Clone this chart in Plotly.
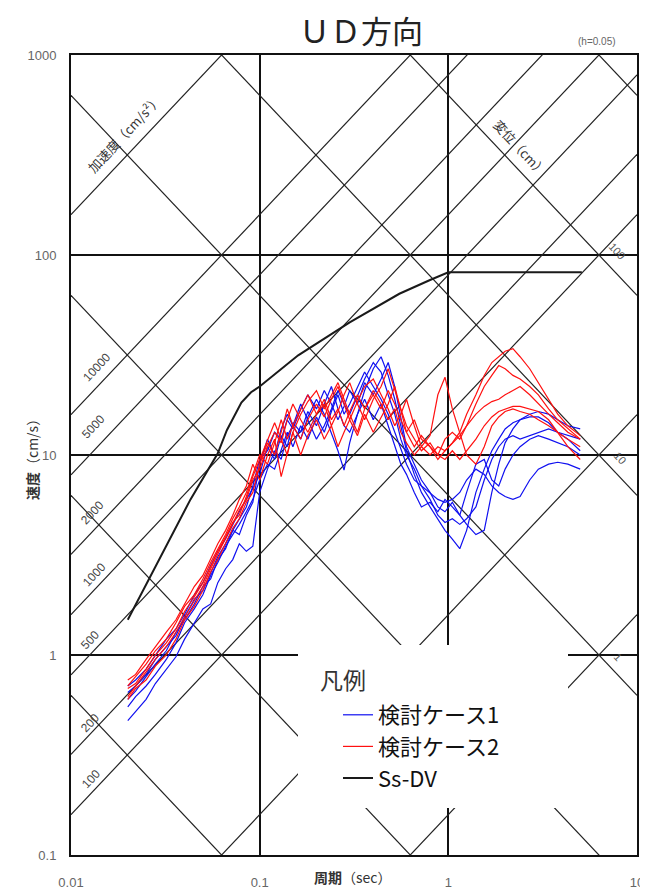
import math
import plotly.graph_objects as go

# ---------------- data ----------------
period = [0.02, 0.022, 0.025, 0.028, 0.032, 0.036, 0.04, 0.045, 0.05, 0.055,
          0.06, 0.066, 0.072, 0.078, 0.085, 0.092, 0.1, 0.11, 0.12, 0.13,
          0.14, 0.15, 0.165, 0.18, 0.2, 0.22, 0.24, 0.26, 0.28, 0.3,
          0.33, 0.36, 0.4, 0.44, 0.48, 0.52, 0.56, 0.6, 0.66, 0.72,
          0.8, 0.88, 0.96, 1.05, 1.15, 1.25, 1.4, 1.55, 1.7, 1.85,
          2.0, 2.2, 2.4, 2.7, 3.0, 3.4, 3.8, 4.3, 5.0]

case1_a = [0.47, 0.52, 0.6, 0.72, 0.85, 0.98, 1.2, 1.45, 1.7, 1.8,
           2.3, 2.7, 3.0, 3.6, 3.3, 3.5, 6.5, 8.5, 10.5, 9.5,
           12.5, 14, 12, 15.5, 19, 16, 13, 10.5, 8.4, 11.5,
           16, 21, 27, 31, 25, 19, 14, 10.5, 8, 6.5,
           5.5, 4.8, 4.2, 3.8, 3.4, 4.2, 6.5, 8.5, 10.5, 12,
           13.5, 14.5, 15, 15.5, 15.5, 14.5, 13, 12, 10.5]
case1_b = [0.6, 0.66, 0.78, 0.9, 1.05, 1.3, 1.5, 1.8, 2.2, 2.4,
           3.0, 3.4, 4.2, 4.8, 5.5, 7.0, 9.5, 10.5, 13, 12,
           15, 13.5, 17, 20, 17, 21, 18, 15, 17.5, 21,
           18, 23, 20, 24, 29, 22, 15, 11, 9, 7.5,
           6.5, 5.5, 5.2, 5.8, 5.0, 4.5, 4.0, 4.2, 6.5, 9,
           11.5, 13.5, 15, 16, 16.5, 16, 15, 14, 13.5]
case1_c = [0.7, 0.75, 0.85, 1.0, 1.2, 1.35, 1.6, 2.0, 2.3, 2.8,
           3.3, 3.8, 4.5, 5.2, 6.0, 6.8, 8.0, 11, 9.5, 12.5,
           11, 14.5, 13, 16.5, 14, 18, 22, 17, 14, 13,
           16, 19, 15, 18, 14, 11, 9, 8, 6.5, 5.5,
           5.8, 5.2, 6.0, 5.5, 5.0, 6.5, 9, 9.5, 7.5, 7.0,
           8.5, 10, 11, 12, 12.5, 12, 11.5, 11, 10]
case1_d = [0.55, 0.62, 0.7, 0.8, 0.95, 1.15, 1.45, 1.7, 2.0, 2.5,
           2.9, 3.5, 4.0, 4.5, 5.2, 6.0, 7.5, 9, 8.5, 10.5,
           13, 11, 14, 12, 15.5, 13, 16.5, 20, 16, 18,
           22, 26, 22, 19, 16, 13, 10.5, 9, 7.5, 7.0,
           6.5, 6.0, 5.8, 6.0, 6.5, 7.5, 8.5, 8.0, 7.0, 6.5,
           6.2, 6.0, 6.2, 7.5, 8.5, 9.0, 9.2, 9.0, 8.5]
case1_e = [0.65, 0.7, 0.8, 0.95, 1.1, 1.25, 1.55, 1.9, 2.1, 2.6,
           3.1, 3.6, 4.2, 4.0, 5.0, 5.8, 9, 12, 10, 13.5,
           16, 14, 18, 15, 12, 14, 17, 21, 18, 16,
           20, 24, 29, 26, 20, 16, 12, 10, 8.5, 7.0,
           6.0, 5.0, 4.6, 4.8, 4.5, 4.8, 5.5, 7.5, 9.5, 11,
           12, 12.5, 12, 12.5, 13, 13.5, 13, 12.5, 12]

case2_a = [0.62, 0.7, 0.82, 0.95, 1.1, 1.3, 1.55, 1.85, 2.2, 2.7,
           3.2, 3.8, 4.5, 5.3, 6.0, 7.5, 8.5, 11, 13, 11.5,
           15, 18, 15, 13, 16, 19, 15, 17, 14, 16.5,
           20, 17, 21, 18, 15, 17, 13, 11.5, 10, 11,
           10, 11, 10.5, 11.5, 13, 16, 20, 25, 29, 31,
           33, 34, 31, 27, 23, 19, 16, 14, 12.5]
case2_b = [0.7, 0.78, 0.9, 1.05, 1.2, 1.45, 1.75, 2.0, 2.4, 2.9,
           3.4, 4.0, 4.8, 5.5, 6.5, 8, 10, 9, 11.5, 15,
           12, 14, 17, 20, 16, 18, 14, 16.5, 20, 23,
           18, 15, 19, 22, 27, 21, 17, 14, 12, 10.5,
           11.5, 10, 12, 13, 12, 14, 18, 22, 25, 28,
           27, 25, 24, 22, 20, 17, 15, 13.5, 12]
case2_c = [0.75, 0.8, 0.95, 1.1, 1.3, 1.5, 1.8, 2.2, 2.5, 3.0,
           3.6, 4.2, 5.0, 6.0, 7.0, 9, 7.5, 10, 12, 7.8,
           10, 13, 10, 12.5, 15, 12, 14, 11, 13, 15,
           12.5, 16, 13, 15.5, 18, 22, 17, 13, 15, 12,
           11, 10, 9.5, 10.5, 9.5, 10.5, 12, 14, 15.5, 16.5,
           17, 17.5, 17.5, 17, 16.5, 15, 13, 11, 9.5]
case2_d = [0.6, 0.68, 0.75, 0.88, 1.0, 1.2, 1.5, 1.75, 2.1, 2.6,
           3.0, 3.6, 4.3, 4.8, 5.8, 6.5, 9, 11.5, 10, 13,
           17, 14, 12, 15, 18, 15.5, 19, 22, 18, 15,
           18.5, 22, 24, 20, 17, 14, 16, 19, 14, 11,
           12.5, 20, 24.5, 17, 13, 10, 9, 11, 14, 15.5,
           16.5, 17, 16.5, 16, 15, 14, 13, 12, 11]
case2_e = [0.68, 0.72, 0.85, 1.0, 1.15, 1.35, 1.65, 1.95, 2.3, 2.8,
           3.3, 3.9, 4.6, 5.0, 6.2, 7.8, 9.5, 12, 14.5, 12,
           10, 13, 16, 18.5, 21, 17, 20, 23, 19, 16,
           13, 17, 20, 17, 21, 18, 15, 13, 11, 12.5,
           11, 9.5, 10.5, 11.5, 12.5, 14, 16, 17.5, 18.5, 19,
           20, 21, 22, 20, 18, 16, 14.5, 13, 12]

case1_series = [case1_a, case1_b, case1_c, case1_d, case1_e]
case2_series = [case2_a, case2_b, case2_c, case2_d, case2_e]

ssdv_period = [0.02, 0.026, 0.034, 0.043, 0.06, 0.067, 0.08, 0.09, 0.1, 0.16,
               0.3, 0.55, 0.8, 1.0, 5.1]
ssdv_vel = [1.5, 2.4, 3.9, 6.0, 10.2, 13.3, 18.3, 20.6, 22.0, 31.5,
            46, 64, 75, 82, 82]

accel_values = [1, 10, 100, 200, 500, 1000, 2000, 5000, 10000, 100000]
disp_values = [0.001, 0.01, 0.1, 1, 10, 100, 1000]

accel_label_text = ["100", "200", "500", "1000", "2000", "5000", "10000"]
disp_label_text = ["100", "10", "1"]

x_tick_vals = [0.01, 0.1, 1, 10]
x_tick_text = ["0.01", "0.1", "1", "10"]
y_tick_vals = [0.1, 1, 10, 100, 1000]
y_tick_text = ["0.1", "1", "10", "100", "1000"]

# ---------------- layout geometry ----------------
# the page body adds an 8 px offset; figure is sized so that the plot
# area lands at x 71..637, y 55..855 of the 648x889 window
OFF = 8
W, H = 648 - OFF, 889 - OFF
PL, PR, PT, PB = 71, 637, 55, 855          # plot area in window pixels
ML, MR, MT, MB = PL - OFF, 648 - PR, PT - OFF, 889 - PB
PW, PH = PR - PL, PB - PT


def paper(xp, yp):
    return (xp - PL) / PW, (PB - yp) / PH


TWO_PI = 2 * math.pi
T_MIN, T_MAX = 0.01, 10.0
GRID = "#222222"
FONT_JP = "Noto Sans CJK JP, Noto Sans, sans-serif"
FONT_NUM = "Liberation Sans, Arial, sans-serif"

fig = go.Figure()

# tripartite diagonal grid: acceleration lines (V = A T / 2pi)
for a in accel_values:
    fig.add_trace(go.Scatter(
        x=[T_MIN, T_MAX], y=[a * T_MIN / TWO_PI, a * T_MAX / TWO_PI],
        mode="lines", line=dict(color=GRID, width=1.2),
        showlegend=False, hoverinfo="skip"))
# displacement lines (V = 2pi D / T)
for d in disp_values:
    fig.add_trace(go.Scatter(
        x=[T_MIN, T_MAX], y=[TWO_PI * d / T_MIN, TWO_PI * d / T_MAX],
        mode="lines", line=dict(color=GRID, width=1.2),
        showlegend=False, hoverinfo="skip"))

for i, vals in enumerate(case1_series):
    fig.add_trace(go.Scatter(
        x=period, y=vals, mode="lines", name="検討ケース1",
        legendgroup="c1", showlegend=(i == 0),
        line=dict(color="#1010f0", width=1.2)))
for i, vals in enumerate(case2_series):
    fig.add_trace(go.Scatter(
        x=period, y=vals, mode="lines", name="検討ケース2",
        legendgroup="c2", showlegend=(i == 0),
        line=dict(color="#ff1010", width=1.2)))
fig.add_trace(go.Scatter(
    x=ssdv_period, y=ssdv_vel, mode="lines", name="Ss-DV",
    line=dict(color="#1a1a1a", width=2.0)))


def ann(text, xp, yp, size, color, family, angle=0):
    ax, ay = paper(xp, yp)
    return dict(text=text, x=ax, y=ay, xref="paper", yref="paper",
                xanchor="center", yanchor="middle", showarrow=False,
                textangle=angle, font=dict(family=family, size=size, color=color))


annotations = []
acc_pos = [(91, 779), (90, 723), (90, 640), (94, 575), (92, 513), (93, 427), (97, 367)]
for txt, (xp, yp) in zip(accel_label_text, acc_pos):
    annotations.append(ann(txt, xp, yp, 12, "#444", FONT_NUM, -47))
annotations.append(ann("加速度（cm/s²）", 124, 133, 13, "#333", FONT_JP, -47))
disp_pos = [(617, 251), (620, 458), (618, 657)]
for txt, (xp, yp) in zip(disp_label_text, disp_pos):
    annotations.append(ann(txt, xp, yp, 11, "#555", FONT_NUM, 47))
annotations.append(ann("変位（cm）", 520, 148, 13, "#333", FONT_JP, 47))
annotations.append(ann("<b>速度</b>（cm/s）", 32, 456, 14, "#333", FONT_JP, -90))
annotations.append(ann("<b>周期</b>（sec）", 352, 877, 14, "#333", FONT_JP))
annotations.append(ann("(h=0.05)", 597, 42, 10, "#666", FONT_NUM))
annotations.append(ann("凡例", 343, 679, 23, "#333", FONT_JP))

# white area behind legend (hides grid lines, as in the reference)
bx0, by0 = paper(298, 808)
bx1, by1 = paper(568, 645)
shapes = [dict(type="rect", xref="paper", yref="paper", x0=bx0, y0=by0, x1=bx1, y1=by1,
               fillcolor="white", line=dict(width=0), layer="above")]

lx, ly = paper(338, 694)

fig.update_layout(
    width=W, height=H,
    margin=dict(l=ML, r=MR, t=MT, b=MB, pad=0, autoexpand=False),
    paper_bgcolor="white", plot_bgcolor="white",
    title=dict(text="ＵＤ方向", x=(361 - OFF) / W, y=1 - (32 - OFF) / H,
               xanchor="center", yanchor="middle",
               font=dict(family=FONT_JP, size=31, color="#222")),
    xaxis=dict(type="log", range=[-2, 1], tickvals=x_tick_vals, ticktext=x_tick_text,
               showgrid=True, gridcolor="#111", gridwidth=1.6,
               showline=True, linecolor="#111", linewidth=2, mirror=True,
               ticks="", zeroline=False, ticklabelstandoff=14, automargin=False,
               tickfont=dict(family=FONT_NUM, size=13, color="#666")),
    yaxis=dict(type="log", range=[-1, 3], tickvals=y_tick_vals, ticktext=y_tick_text,
               showgrid=True, gridcolor="#111", gridwidth=1.6,
               showline=True, linecolor="#111", linewidth=2, mirror=True,
               ticks="", zeroline=False, ticklabelstandoff=10, automargin=False,
               tickfont=dict(family=FONT_NUM, size=13, color="#666")),
    legend=dict(x=lx, y=ly, xanchor="left", yanchor="top",
                bgcolor="rgba(0,0,0,0)", borderwidth=0,
                font=dict(family=FONT_JP, size=22, color="#111"),
                tracegroupgap=0, itemwidth=30),
    annotations=annotations,
    shapes=shapes,
    hovermode=False,
)

fig.write_html("out.html")
